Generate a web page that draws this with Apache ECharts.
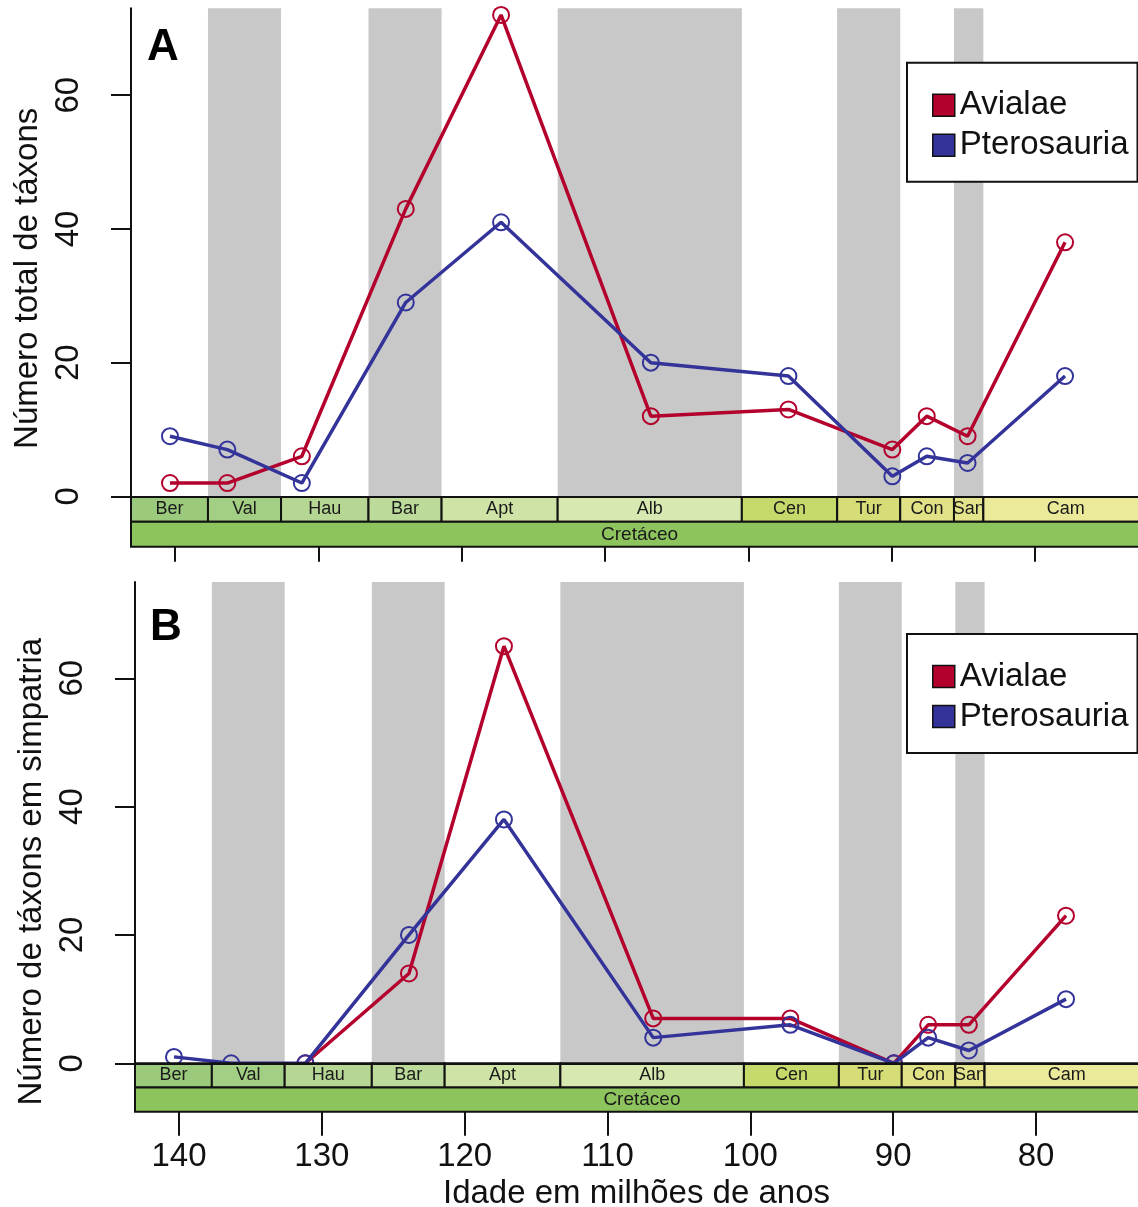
<!DOCTYPE html>
<html>
<head>
<meta charset="utf-8">
<script src="https://cdn.jsdelivr.net/npm/echarts@6/dist/echarts.min.js"></script>
<style>
  html, body { margin: 0; padding: 0; background: #fff; }
  #chart { width: 1138px; height: 1207px; }
</style>
</head>
<body>
<div id="chart"></div>
<script>
// ages (Ma) of the plotted points, one per stage
const ages = [140.35, 136.35, 131.15, 123.9, 117.25, 106.8, 97.2, 89.95, 87.55, 84.7, 77.9];

// A: total number of taxa
const avialaeTotal = [2, 2, 6, 43, 72, 12, 13, 7, 12, 9, 38];
const pterosauriaTotal = [9, 7, 2, 29, 41, 20, 18, 3, 6, 5, 18];

// B: taxa in sympatry
const avialaeSymp = [null, null, 0, 14, 65, 7, 7, 0, 6, 6, 23];
const pterosauriaSymp = [1, 0, 0, 20, 38, 4, 6, 0, 4, 2, 10];

// timescale (as drawn in the figure)
const stageNames = ["Ber", "Val", "Hau", "Bar", "Apt", "Alb", "Cen", "Tur", "Con", "San", "Cam"];
const stageStart = [145, 137.7, 132.6, 126.5, 121.4, 113.3, 100.45, 93.8, 89.4, 85.65, 83.6];
const stageEnd = [137.7, 132.6, 126.5, 121.4, 113.3, 100.45, 93.8, 89.4, 85.65, 83.6, 66];
const greyStages = ["Val", "Bar", "Alb", "Tur", "San"];
const periodName = "Cretáceo";
const periodStart = 145;
const periodEnd = 66;
const plotYoungest = 72.1; // young end of the original plot window (beyond the picture edge)

const xTicks = [140, 130, 120, 110, 100, 90, 80];
const yTicks = [0, 20, 40, 60];

const stageColors = {
  Ber: "#9BCA7D", Val: "#A3CF84", Hau: "#B6D794", Bar: "#BCDA9A", Apt: "#CFE3A7",
  Alb: "#D7E8B0", Cen: "#C6D96B", Tur: "#D6DD76", Con: "#E1E286", San: "#E4E48C", Cam: "#EBE99A"
};
const periodColor = "#8EC45E";
const RED = "#B3002D";
const BLUE = "#33339A";
const FONT = '"Liberation Sans", Arial, Helvetica, sans-serif';

const pairs = (vals) => ages.map((a, i) => [a, vals[i] == null ? null : vals[i]]);

const bandData = stageNames
  .map((n, i) => ({ n, i }))
  .filter((d) => greyStages.includes(d.n))
  .map((d) => [stageStart[d.i], stageEnd[d.i]]);

const stripItems = stageNames.map((n, i) => ({
  value: [stageStart[i], stageEnd[i], 1], label: n, color: stageColors[n], size: 18
}));
stripItems.push({ value: [periodStart, periodEnd, 0], label: periodName, color: periodColor, size: 19 });

function renderBand(params, api) {
  const cs = params.coordSys;
  const x0 = api.coord([api.value(0), 0])[0];
  const x1 = api.coord([api.value(1), 0])[0];
  return {
    type: "rect",
    shape: { x: x0, y: cs.y, width: x1 - x0, height: cs.height },
    style: { fill: "#C8C8C8" }
  };
}

function renderStrip(params, api) {
  const cs = params.coordSys;
  const row = api.value(2);
  const a = api.coord([api.value(0), row + 1]);
  const b = api.coord([api.value(1), row]);
  const xEnd = api.coord([plotYoungest, 0])[0];
  const rect = echarts.graphic.clipRectByRect(
    { x: a[0], y: a[1], width: b[0] - a[0], height: b[1] - a[1] },
    { x: cs.x, y: cs.y, width: xEnd - cs.x, height: cs.height }
  );
  if (!rect) return;
  const item = stripItems[params.dataIndex];
  return {
    type: "rect",
    shape: rect,
    style: { fill: item.color, stroke: "#111", lineWidth: 2 },
    textContent: {
      style: { text: item.label, font: item.size + "px " + FONT, fill: "#1a1a1a" }
    },
    textConfig: { position: "inside" }
  };
}

const panels = [
  { left: 131, top: 8.3, height: 488.1, width: 1007, max: 143.07, min: 72.81, ymax: 73,
    stripTop: 497, stripH: 49.7, tickLen: 15, showX: false,
    yName: "Número total de táxons", yShift: 52,
    red: avialaeTotal, blue: pterosauriaTotal, legendTop: 62.7 },
  { left: 135, top: 582, height: 481.3, width: 1003, max: 143.08, min: 72.86, ymax: 75,
    stripTop: 1063.3, stripH: 48.4, tickLen: 24, showX: true,
    yName: "Número de táxons em simpatria", yShift: 98,
    red: avialaeSymp, blue: pterosauriaSymp, legendTop: 634 }
];

const grid = [], xAxis = [], yAxis = [], series = [], legend = [];

panels.forEach((p, k) => {
  grid.push({ left: p.left, top: p.top, width: p.width, height: p.height, outerBoundsMode: "none" });
  grid.push({ left: p.left, top: p.stripTop, width: p.width, height: p.stripH, outerBoundsMode: "none" });
  const gi = k * 2;

  xAxis.push({
    type: "value", gridIndex: gi, min: p.min, max: p.max, inverse: true, position: "top", z: 10,
    axisLine: { show: true, lineStyle: { color: "#111", width: 2 } },
    axisTick: { show: false }, axisLabel: { show: false }, splitLine: { show: false }
  });
  xAxis.push({
    type: "value", gridIndex: gi + 1, min: p.min, max: p.max, inverse: true, position: "bottom", z: 10,
    axisLine: { show: false },
    axisTick: { show: true, length: p.tickLen, customValues: xTicks, lineStyle: { color: "#111", width: 2 } },
    axisLabel: { show: p.showX, customValues: xTicks, fontSize: 33, color: "#111", margin: 29, fontFamily: FONT },
    splitLine: { show: false },
    name: p.showX ? "Idade em milhões de anos" : "",
    nameLocation: "middle", nameGap: 66,
    nameTextStyle: { fontSize: 33, color: "#111", fontFamily: FONT }
  });

  yAxis.push({
    type: "value", gridIndex: gi, min: 0, max: p.ymax, z: 10,
    axisLine: { show: true, lineStyle: { color: "#111", width: 2 } },
    axisTick: { show: true, length: 20, customValues: yTicks, lineStyle: { color: "#111", width: 2 } },
    axisLabel: { customValues: yTicks, rotate: 90, margin: 46, fontSize: 33, color: "#111", fontFamily: FONT },
    splitLine: { show: false },
    name: p.yName, nameLocation: "middle", nameRotate: 90, nameGap: 85,
    nameTextStyle: { fontSize: 33, color: "#111", fontFamily: FONT, padding: [0, p.yShift, 0, 0] }
  });
  yAxis.push({ type: "value", gridIndex: gi + 1, min: 0, max: 2, show: false });

  const xi = gi, yi = gi;
  series.push({
    type: "custom", xAxisIndex: xi, yAxisIndex: yi, z: 1, silent: true,
    renderItem: renderBand, data: bandData
  });
  [["Avialae", RED, p.red, 3], ["Pterosauria", BLUE, p.blue, 4]].forEach(([name, col, vals, z]) => {
    series.push({
      type: "line", name, xAxisIndex: xi, yAxisIndex: yi, z,
      data: pairs(vals),
      symbol: "circle", symbolSize: 16,
      lineStyle: { color: col, width: 3.5 },
      itemStyle: { color: "rgba(0,0,0,0)", borderColor: col, borderWidth: 2 },
      emphasis: { disabled: true }
    });
  });
  series.push({
    type: "custom", xAxisIndex: gi + 1, yAxisIndex: gi + 1, z: 6, silent: true,
    renderItem: renderStrip, data: stripItems.map((d) => d.value)
  });

  legend.push({
    orient: "vertical", left: 907, top: p.legendTop, z: 20,
    padding: [26, 9, 20, 25], itemGap: 7, itemWidth: 22, itemHeight: 22,
    backgroundColor: "#fff", borderColor: "#111", borderWidth: 2, borderRadius: 0,
    selectedMode: false,
    textStyle: { fontSize: 33, color: "#111", fontFamily: FONT },
    data: [
      { name: "Avialae", icon: "rect", itemStyle: { color: RED, borderColor: "#111", borderWidth: 1.5 } },
      { name: "Pterosauria", icon: "rect", itemStyle: { color: BLUE, borderColor: "#111", borderWidth: 1.5 } }
    ]
  });
});

const chart = echarts.init(document.getElementById("chart"), null, { renderer: "canvas" });
chart.setOption({
  animation: false,
  backgroundColor: "#fff",
  textStyle: { fontFamily: FONT },
  grid, xAxis, yAxis, series, legend,
  graphic: [
    { type: "text", left: 147, top: 26, z: 30, style: { text: "A", font: "bold 44px " + FONT, fill: "#000" } },
    { type: "text", left: 150, top: 606, z: 30, style: { text: "B", font: "bold 44px " + FONT, fill: "#000" } }
  ]
});
</script>
</body>
</html>
